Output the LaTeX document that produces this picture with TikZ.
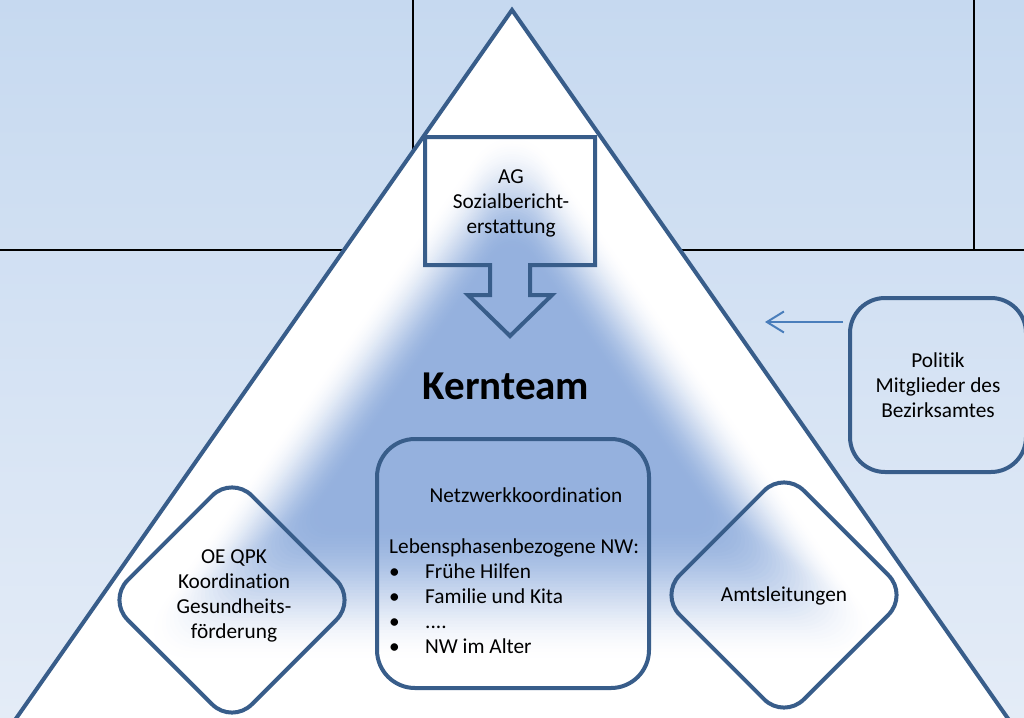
\documentclass[tikz,border=0pt]{standalone}
\usepackage{fontspec}
\setmainfont{Carlito}[Ligatures={NoCommon}]
\usetikzlibrary{arrows.meta}
\definecolor{bgtop}{HTML}{C6D9F0}
\definecolor{bgbottom}{HTML}{E4ECF7}
\definecolor{rand}{HTML}{385D8A}
\definecolor{kern}{HTML}{95B1DE}
\definecolor{pfeilblau}{HTML}{4A7EBB}
\begin{document}
\begin{tikzpicture}[x=1pt,y=-1pt]
\tikzstyle{plain text}=[align=center,font=\fontsize{21.3}{25}\selectfont,inner sep=0]
\tikzstyle{round box}=[rectangle,draw=rand,line width=4pt]
\tikzset{
	diamond box/.style={rectangle,draw=rand,line width=4pt,rounded corners=28pt,minimum width=175.6pt,minimum height=175.6pt,rotate=45,inner sep=0},
	frame line/.style={draw=black,line width=1.8pt}
}
\useasboundingbox (0,0) rectangle (1024,717);
\clip (0,0) rectangle (1024,717);
\shade[top color=bgtop,bottom color=bgbottom] (0,0) rectangle (1024,717);
\draw[frame line] (-5,-5) rectangle (413,250);
\draw[frame line] (413,-5) rectangle (974,250);
\draw[frame line] (974,-5) rectangle (1030,250);
% pyramid with path gradient
\fill[white] (512,10) -- (-13,760) -- (1037,760) -- cycle;
\foreach \k in {0,...,45}{
	\pgfmathsetmacro\s{0.75-\k*0.008}
	\pgfmathsetmacro\t{\k/45}
	\pgfmathsetmacro\f{100*\t*\t*(3-2*\t)}
	\pgfmathsetmacro\r{90*\s}
	\fill[kern!\f!white,rounded corners=\r pt] (512,{375-365*\s}) -- ({512-525*\s},{375+385*\s}) -- ({512+525*\s},{375+385*\s}) -- cycle;
}
\draw[rand,line width=4pt] (512,10) -- (-13,760) -- (1037,760) -- cycle;
% AG arrow
\draw[rand,line width=4pt] (425,137) -- (595,137) -- (595,265) -- (530,265) -- (530,295) -- (552,295)
	-- (510,336) -- (468,295) -- (490,295) -- (490,265) -- (425,265) -- cycle;
\node[plain text] (ag) at (511,203) {AG\\Sozialbericht-\\erstattung};
\node[font=\fontsize{41}{49}\selectfont\bfseries,anchor=base,inner sep=0] (kernteam) at (506,399) {Kernteam};
% Netzwerkkoordination
\node[round box,rounded corners=38pt,minimum width=272pt,minimum height=249pt] (netz) at (513,563.5) {};
\node[plain text] (netztitel) at (526,495) {Netzwerkkoordination};
\node[plain text,align=left,anchor=north west] (netzliste) at (389,539) {Lebensphasenbezogene NW:\\
	\makebox[36pt][l]{\textbullet}Frühe Hilfen\\
	\makebox[36pt][l]{\textbullet}Familie und Kita\\
	\makebox[36pt][l]{\textbullet}....\\
	\makebox[36pt][l]{\textbullet}NW im Alter};
% diamonds
\node[diamond box] (oe) at (232,600) {};
\node[plain text] (oetext) at (234,596) {OE QPK\\Koordination\\Gesundheits-\\förderung};
\node[diamond box] (amt) at (784,595) {};
\node[plain text] (amttext) at (784,596) {Amtsleitungen};
% Politik
\node[round box,plain text,rounded corners=35pt,minimum width=176pt,minimum height=174pt] (politik) at (938,385) {Politik\\Mitglieder des\\Bezirksamtes};
\coordinate (pfeilstart) at (843,322);
\coordinate (pfeilspitze) at (765,322);
\draw[pfeilblau,line width=2pt,-{Straight Barb[length=17pt,width=21pt]}] (pfeilstart) -- (pfeilspitze);
\end{tikzpicture}
\end{document}
